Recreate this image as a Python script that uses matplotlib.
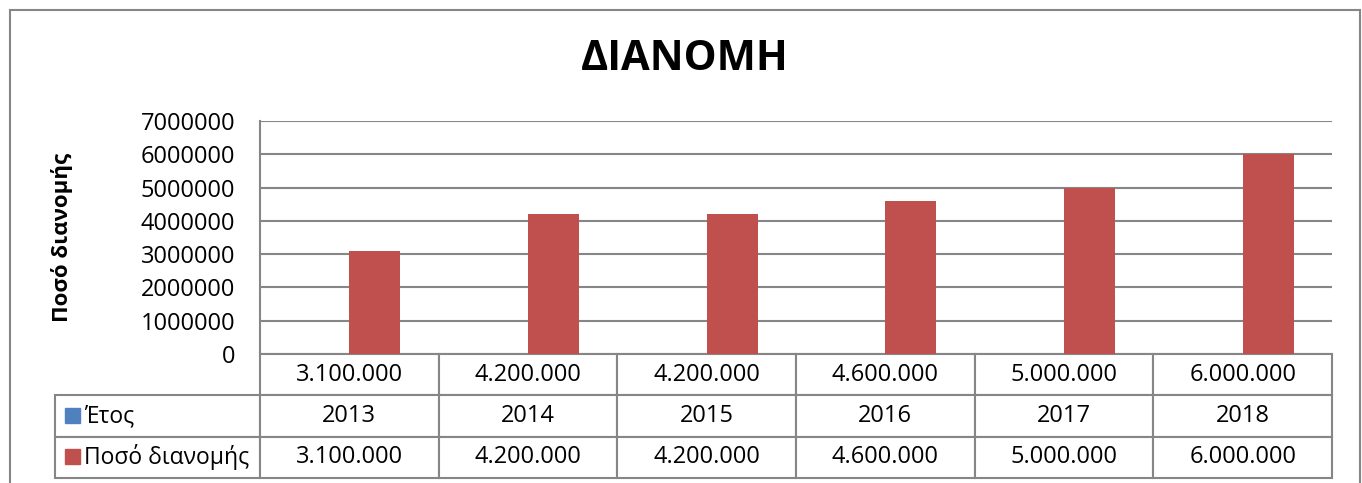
import numpy as np
import matplotlib
matplotlib.use("Agg")
import matplotlib.pyplot as plt
from matplotlib.patches import Rectangle
from matplotlib.ticker import FuncFormatter, MultipleLocator

plt.rcParams["font.family"] = ["Open Sans", "DejaVu Sans"]

title = "ΔΙΑΝΟΜΗ"
y_label = "Ποσό διανομής"
series_names = ["Έτος", "Ποσό διανομής"]
years = [2013, 2014, 2015, 2016, 2017, 2018]
amounts = [3100000, 4200000, 4200000, 4600000, 5000000, 6000000]
series_colors = ["#4F81BD", "#C0504D"]
grid_color = "#868686"


def dotted(v):
    return f"{v:,}".replace(",", ".")


fig = plt.figure(figsize=(13.62, 4.83), dpi=100)
ax = fig.add_axes([260 / 1362, 129 / 483, 1072 / 1362, 233 / 483])

# outer chart frame
fig.patches.append(
    Rectangle((10 / 1362, -0.1), 1350 / 1362, 1.1 - 10 / 483,
              transform=fig.transFigure, fill=False,
              edgecolor=grid_color, linewidth=1.5)
)

x = np.arange(len(years))
w = 0.285
ax.bar(x - w / 2, years, w, color=series_colors[0], zorder=3)
ax.bar(x + w / 2, amounts, w, color=series_colors[1], zorder=3)

ax.set_xlim(-0.5, len(years) - 0.5)
ax.set_ylim(0, 7000000)
ax.yaxis.set_major_locator(MultipleLocator(1000000))
ax.yaxis.set_major_formatter(FuncFormatter(lambda v, p: f"{int(v)}"))
ax.set_xticks([])
ax.tick_params(axis="y", length=0, pad=18, labelsize=17)
ax.grid(axis="y", color=grid_color, linewidth=1.5, zorder=0)
for s in ["top", "right", "bottom"]:
    ax.spines[s].set_visible(False)
ax.spines["left"].set_color(grid_color)
ax.spines["left"].set_linewidth(1.5)

ax.set_ylabel(y_label, fontsize=16, fontweight="bold")
ax.yaxis.set_label_coords(-0.1847, 0.5)
ax.yaxis.label.set_verticalalignment("center")

fig.text(685 / 1362, 1 - 60 / 483, title, ha="center", va="center",
         fontsize=30, fontweight="bold")

# data table under the plot
cell_text = [
    [""] + [dotted(a) for a in amounts],
    [series_names[0]] + [str(y) for y in years],
    [series_names[1]] + [dotted(a) for a in amounts],
]
label_w = 205 / 1072
tab = ax.table(cellText=cell_text,
               colWidths=[205] + [178.67] * len(years),
               cellLoc="center",
               bbox=[-label_w, -124 / 233, 1 + label_w, 124 / 233])
tab.auto_set_font_size(False)
for (r, c), cell in tab.get_celld().items():
    cell.set_edgecolor(grid_color)
    cell.set_linewidth(1.5)
    cell.get_text().set_fontsize(17)
    if c == 0:
        cell.get_text().set_horizontalalignment("left")
        cell.get_text().set_fontsize(16.5)
        cell.PAD = 29 / 205
    if r == 0 and c == 0:
        cell.visible_edges = "open"

for i, color in enumerate(series_colors):
    top = 408 if i == 0 else 449
    ax.add_patch(Rectangle(((65 - 260) / 1072, (354 - top - 15) / 233),
                           15 / 1072, 15 / 233, transform=ax.transAxes,
                           color=color, clip_on=False, zorder=5))

fig.savefig("out.png", dpi=100)
